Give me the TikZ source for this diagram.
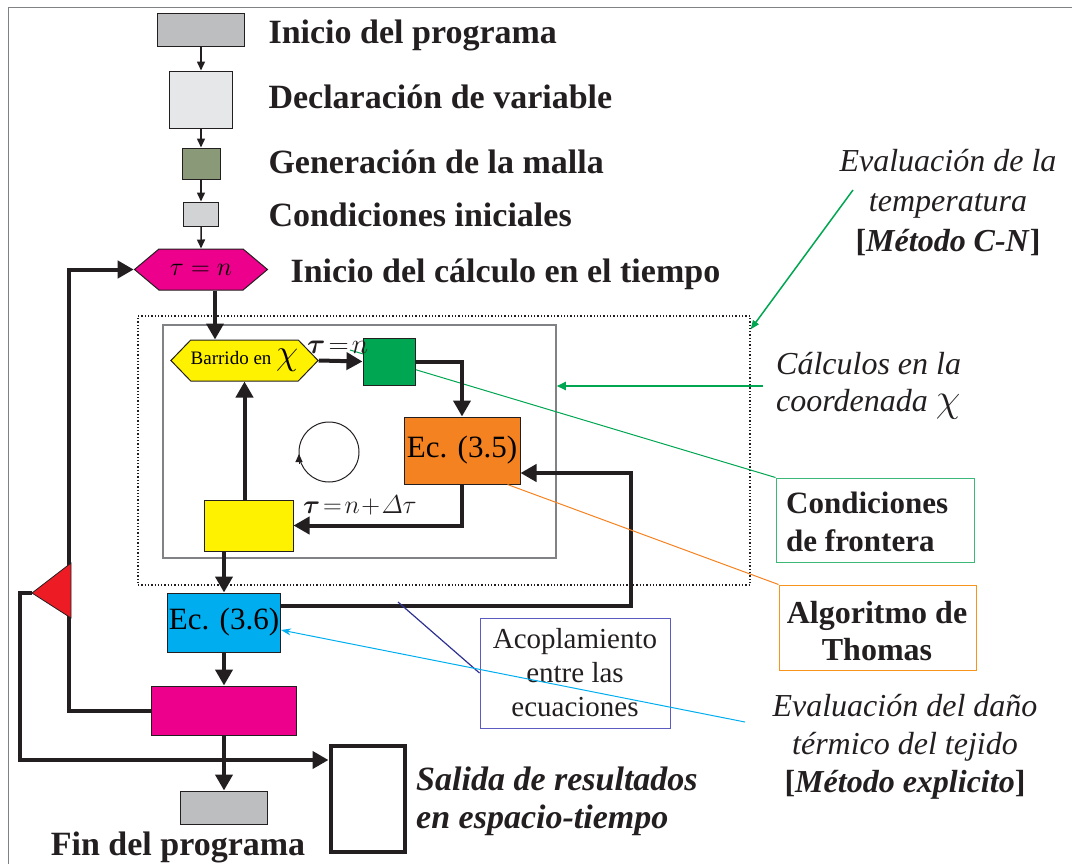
\RequirePackage{fix-cm}
\documentclass[tikz,border=0pt]{standalone}
\usepackage{amsmath}
\usepackage{fontspec}
\setmainfont{Liberation Serif}
\usetikzlibrary{arrows.meta,shapes.symbols}

\definecolor{linea}{HTML}{231F20}
\definecolor{grisA}{HTML}{BCBEC0}
\definecolor{grisB}{HTML}{E6E7E8}
\definecolor{oliva}{HTML}{8A9A78}
\definecolor{grisC}{HTML}{D1D3D4}
\definecolor{rosa}{HTML}{EC008C}
\definecolor{amarillo}{HTML}{FFF200}
\definecolor{verde}{HTML}{00A651}
\definecolor{naranja}{HTML}{F58220}
\definecolor{celeste}{HTML}{00AEEF}
\definecolor{rojo}{HTML}{ED1C24}
\definecolor{azul}{HTML}{2E3192}
\definecolor{lila}{HTML}{5C5CC0}
\definecolor{naranjaB}{HTML}{F7941D}
\definecolor{verdeB}{HTML}{3CB878}
\definecolor{gris}{HTML}{808285}

\tikzset{
	caja/.style={draw=linea, line width=1pt, inner sep=0pt},
	hexa/.style={signal, signal to=west and east, draw=linea, line width=1pt, inner sep=0pt},
	flechita/.style={draw=linea, line width=1.5pt, -{Triangle[length=9pt,width=8pt]}},
	flecha/.style={draw=linea, line width=4pt, -{Triangle[length=16pt,width=17pt]}},
	titulo/.style={anchor=base west, text=linea, font=\fontsize{34}{40}\selectfont\bfseries},
	nota/.style={text=linea, inner sep=0pt, font=\fontsize{32}{40}\selectfont\itshape},
	recuadro/.style={line width=1pt, inner sep=0pt, text=linea}
}

\begin{document}
\begin{tikzpicture}[x=1pt,y=-1pt]
		\useasboundingbox (0,0) rectangle (1072,863);
		\draw[gris, line width=1pt] (1090,7) -- (8,7) -- (8,880);

		% secuencia inicial
		\node (ini)  at (201,29.5)  [caja, fill=grisA, minimum width=87pt, minimum height=33pt] {};
		\node (decl) at (201,99.5)  [caja, fill=grisB, minimum width=63pt, minimum height=57pt] {};
		\node (gen)  at (201,163.5) [caja, fill=oliva, minimum width=38pt, minimum height=31pt] {};
		\node (cond) at (201,214)   [caja, fill=grisC, minimum width=35pt, minimum height=24pt] {};
		\node (tau)  at (201,269.5) [hexa, fill=rosa, minimum width=133pt, minimum height=41pt,
			signal pointer angle=80, font=\fontsize{26}{30}\selectfont] {$\tau = n$};
		\draw[flechita] (ini)  -- (decl);
		\draw[flechita] (decl) -- (gen);
		\draw[flechita] (gen)  -- (cond);
		\draw[flechita] (cond) -- (tau);

		\node at (265,43)  [titulo] {Inicio del programa};
		\node at (265,108) [titulo] {Declaración de variable};
		\node at (265,173) [titulo] {Generación de la malla};
		\node at (265,226) [titulo] {Condiciones iniciales};
		\node at (287,282) [titulo] {Inicio del cálculo en el tiempo};

		% zona de calculo en chi
		\node (zona) at (444,450.5) [draw=linea, dotted, line width=1.3pt, minimum width=612pt, minimum height=269pt] {};
		\node (interior) at (359.5,441.5) [draw=gris, line width=1.5pt, minimum width=393pt, minimum height=233pt] {};

		\coordinate (p1) at (350,350);
		\node (front) at (875,520) [recuadro, draw=verdeB, minimum width=198pt, minimum height=84pt] {};
		\draw[verde, line width=1pt] (p1) -- (front.north west);

		\node (barr) at (244.5,360.5) [hexa, fill=amarillo, minimum width=135pt, minimum height=41pt,
			signal pointer angle=92, font=\fontsize{19}{22}\selectfont]
			{Barrido en {\fontsize{36}{36}\selectfont$\chi$}};
		\node (bord) at (389,361.5) [caja, fill=verde, minimum width=52pt, minimum height=47pt] {};
		\node (ec35) at (462,450.5) [caja, fill=naranja, minimum width=116pt, minimum height=67pt,
			font=\fontsize{31}{36}\selectfont] {Ec. (3.5)};
		\node (amar) at (248.5,525.5) [caja, fill=amarillo, minimum width=89pt, minimum height=51pt] {};

		\draw[flecha] ([xshift=14pt]tau.south) -- ([xshift=-29.5pt]barr.north);
		\draw[flecha] (barr.east) -- (bord.west);
		\draw[flecha] (bord.east) -| (ec35.north);
		\draw[flecha] (ec35.south) |- (amar.east);
		\draw[flecha] (amar.north -| barr.south) -- (barr.south);

		\node at (307,353) [anchor=base west, text=linea, inner sep=0pt, font=\fontsize{28}{30}\selectfont]
			{$\boldsymbol{\tau}\!=\!n$};
		\node at (303,513) [anchor=base west, text=linea, inner sep=0pt, font=\fontsize{26}{30}\selectfont]
			{$\boldsymbol{\tau}\!=\!n\!+\!\varDelta\tau$};

		% ciclo
		\draw[linea, line width=1pt] (329,452) circle (30);
		\draw[linea, line width=1pt, -{Triangle[length=8pt,width=7pt]}] (299,464) -- (299,454);

		% parte inferior
		\node (ec36) at (224,622.5) [caja, fill=celeste, minimum width=113pt, minimum height=59pt,
			font=\fontsize{31}{36}\selectfont] {Ec. (3.6)};
		\node (dano) at (224,710.5) [caja, fill=rosa, minimum width=145pt, minimum height=49pt] {};
		\node (fin)  at (224,807.5) [caja, fill=grisA, minimum width=87pt, minimum height=33pt] {};
		\node (sal)  at (367.5,798.5) [draw=linea, line width=4pt, minimum width=74pt, minimum height=106pt] {};

		\draw[flecha] (ec36.north |- amar.south) -- (ec36.north);
		\draw[flecha] ([yshift=16.5pt]ec36.east) -- ++(350,0) |- ([yshift=-22.5pt]ec35.east);
		\draw[flecha] (ec36) -- (dano);
		\draw[flecha] (dano) -- (fin);
		\draw[flecha] (dano.west) -- ++(-82,0) |- (tau.west);

		\coordinate (punta) at (32,593);
		\filldraw[fill=rojo, draw=linea, line width=0.8pt] (71,563) -- (71,618) -- (punta) -- cycle;
		\draw[flecha] (punta) -- ++(-12,0) |- ([yshift=38.5pt]sal.west);

		\node at (178,855) [anchor=base, text=linea, inner sep=0pt, font=\fontsize{34}{40}\selectfont\bfseries] {Fin del programa};
		\node at (416,801) [anchor=west, align=left, text=linea, inner sep=0pt,
			font=\fontsize{34}{38}\selectfont\bfseries\itshape] {Salida de resultados\\en espacio-tiempo};

		% notas de la derecha
		\node (evtemp) at (948,203) [nota, align=center] {Evaluación de la\\temperatura\\\textbf{\upshape[\textit{Método C-N}]}};
		\coordinate (p2) at (853,190);
		\draw[verde, line width=1.5pt, -{Triangle[length=9pt,width=7pt]}] (p2) -- ([yshift=-14pt]zona.north east);

		\node (calc) at (776,386) [nota, anchor=west, align=left, font=\fontsize{32}{37}\selectfont\itshape]
			{Cálculos en la\\coordenada {\fontsize{40}{40}\selectfont$\chi$}};
		\draw[verde, line width=2pt, -{Triangle[length=9pt,width=8pt]}] ([xshift=-13pt]calc.west) -- (calc.west -| interior.east);

		\node at (786,522) [anchor=west, align=left, text=linea, inner sep=0pt, font=\fontsize{31}{38}\selectfont\bfseries]
			{Condiciones\\de frontera};

		\node (thom) at (877.5,627.5) [recuadro, draw=naranjaB, minimum width=197pt, minimum height=85pt] {};
		\node at (877,631) [align=center, text=linea, inner sep=0pt, font=\fontsize{32}{37}\selectfont\bfseries]
			{Algoritmo de\\Thomas};
		\draw[naranja, line width=1pt] ([xshift=-13pt]ec35.south east) -- (thom.north west);

		\node (acop) at (575,673) [recuadro, draw=lila, minimum width=190pt, minimum height=110pt, align=center,
			font=\fontsize{29}{34}\selectfont] {Acoplamiento\\entre las\\ecuaciones};
		\coordinate (p3) at (398,602);
		\draw[azul, line width=1.2pt] (p3) -- (acop.west);

		\node (evdano) at (905,747) [nota, align=center, font=\fontsize{32}{38}\selectfont\itshape]
			{Evaluación del daño\\térmico del tejido\\\textbf{\upshape[\textit{Método explicito}]}};
		\coordinate (p4) at (745,722);
		\draw[celeste, line width=1pt, -{Stealth[length=10pt,width=7pt]}] (p4) -- ([yshift=-7.5pt]ec36.east);
\end{tikzpicture}
\end{document}
